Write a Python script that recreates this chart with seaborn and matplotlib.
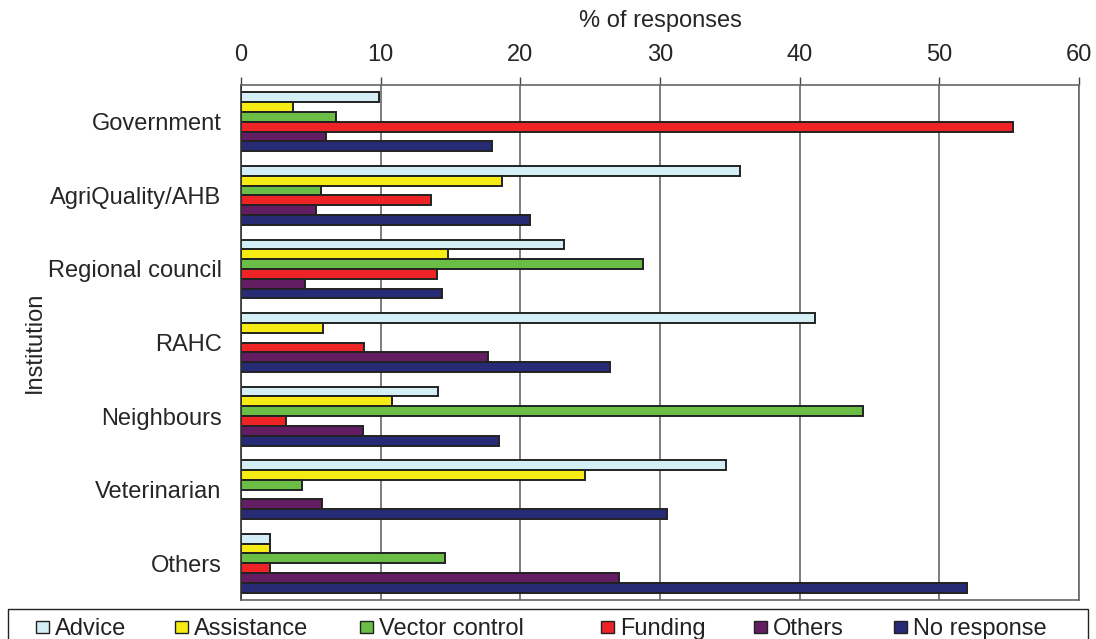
import pandas as pd
import matplotlib.pyplot as plt
import seaborn as sns
from matplotlib.patches import Rectangle

institutions = ["Government", "AgriQuality/AHB", "Regional council", "RAHC",
                "Neighbours", "Veterinarian", "Others"]
responses = ["Advice", "Assistance", "Vector control", "Funding", "Others", "No response"]

advice       = [9.9, 35.7, 23.1, 41.1, 14.1, 34.7, 2.1]
assistance   = [3.7, 18.7, 14.8, 5.9, 10.8, 24.6, 2.1]
vector       = [6.8, 5.75, 28.8, 0.0, 44.5, 4.4, 14.6]
funding      = [55.25, 13.6, 14.0, 8.8, 3.2, 0.0, 2.1]
others       = [6.1, 5.35, 4.55, 17.65, 8.7, 5.8, 27.1]
no_response  = [18.0, 20.7, 14.4, 26.4, 18.5, 30.5, 52.0]

colors = ["#D3EEF4", "#F6EC13", "#6ABD45", "#EE2326", "#631E63", "#272A74"]

series = [advice, assistance, vector, funding, others, no_response]
rows = []
for resp, vals in zip(responses, series):
    for inst, v in zip(institutions, vals):
        rows.append({"Institution": inst, "Response": resp, "Percent": v})
df = pd.DataFrame(rows)

sns.set_style("white")
plt.rcParams["font.family"] = ["Liberation Sans", "DejaVu Sans"]

W, H = 1096, 639
fig = plt.figure(figsize=(W / 100, H / 100), dpi=100)
ax = fig.add_axes([241 / W, 1 - 600 / H, 838 / W, 515 / H])

sns.barplot(data=df, x="Percent", y="Institution", hue="Response",
            order=institutions, hue_order=responses, palette=colors,
            saturation=1, orient="h", width=0.8, edgecolor="#222222",
            linewidth=1.4, ax=ax, legend=False)

ax.set_xlim(0, 60)
ax.set_ylim(6.5, -0.5)
ax.set_xticks(range(0, 61, 10))
ax.xaxis.tick_top()
ax.xaxis.set_label_position("top")
ax.set_xlabel("% of responses", fontsize=17, labelpad=12)
ax.set_ylabel("Institution", fontsize=17, labelpad=1)
ax.tick_params(axis="x", labelsize=17, length=6, width=1, color="#444444",
               direction="out", pad=8)
ax.set_yticks(range(len(institutions)))
ax.set_yticklabels(institutions)
ax.tick_params(axis="y", which="major", labelsize=17, length=0, pad=14)
ax.set_yticks([i - 0.5 for i in range(len(institutions) + 1)], minor=True)
ax.tick_params(axis="y", which="minor", length=7, width=1, color="#444444", direction="out")
ax.grid(axis="x", color="#666666", linewidth=1.2)
ax.set_axisbelow(True)
for side, sp in ax.spines.items():
    sp.set_visible(True)
    sp.set_color("#666666")
    sp.set_linewidth(1.2)
ax.spines["left"].set_color("#333333")

# legend strip along the bottom edge
fig.patches.append(Rectangle((8 / W, -0.01), 1080 / W, 1 - 609 / H + 0.01,
                             transform=fig.transFigure, fill=False,
                             edgecolor="#222222", linewidth=1.0))
legend_x = [36, 175, 360, 601, 754, 894]
for x0, c, lab in zip(legend_x, colors, responses):
    fig.patches.append(Rectangle((x0 / W, 1 - 633 / H), 13 / W, 12 / H,
                                 transform=fig.transFigure, facecolor=c,
                                 edgecolor="#222222", linewidth=1.0))
    fig.text((x0 + 19) / W, 1 - 635 / H, lab, fontsize=17,
             ha="left", va="baseline", color="#222222")

plt.savefig("out.png", dpi=100)
plt.close()
